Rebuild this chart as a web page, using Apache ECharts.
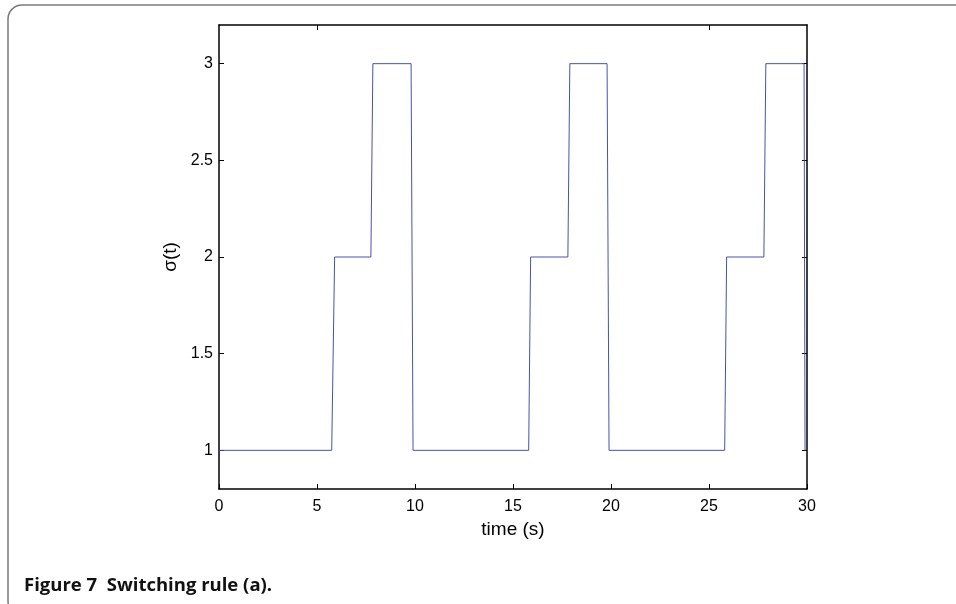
<!DOCTYPE html>
<html><head><meta charset="utf-8">
<script src="https://cdn.jsdelivr.net/npm/echarts@6/dist/echarts.min.js"></script>
<style>html,body{margin:0;padding:0;background:#fff}#c{width:956px;height:604px}</style>
</head><body><div id="c"></div>
<script>
const times  = [0, 5.75, 5.9, 7.75, 7.85, 9.8, 9.9, 15.8, 15.9, 17.8, 17.9, 19.8, 19.9, 25.8, 25.9, 27.8, 27.9, 29.85, 29.9];
const sigma  = [1, 1,    2,   2,    3,    3,   1,   1,    2,    2,    3,    3,    1,    1,    2,    2,    3,    3,     1];
const xTicks = [0, 5, 10, 15, 20, 25, 30];
const yTicks = [1, 1.5, 2, 2.5, 3];
const topTicks = [5, 25];
const xTitle = 'time (s)';
const yTitle = 'σ(t)';
const caption = 'Figure 7  Switching rule (a).';

const data = times.map((t, i) => [t, sigma[i]]);
const chart = echarts.init(document.getElementById('c'), null, {renderer: 'canvas'});
const axisFont = {fontFamily: 'Liberation Sans, Arial, sans-serif', fontSize: 16, color: '#000'};
chart.setOption({
  animation: false,
  backgroundColor: '#fff',
  grid: {left: 219, top: 25, right: 149, bottom: 115},
  xAxis: [{
    type: 'value', min: 0, max: 30, position: 'bottom',
    axisLine: {lineStyle: {color: '#000', width: 1.5}},
    axisTick: {inside: true, length: 5, customValues: xTicks, lineStyle: {color: '#000', width: 1}},
    axisLabel: Object.assign({customValues: xTicks, margin: 10}, axisFont),
    splitLine: {show: false},
    name: xTitle, nameLocation: 'middle', nameGap: 28,
    nameTextStyle: {fontFamily: 'Liberation Sans, Arial, sans-serif', fontSize: 19, color: '#000'}
  }, {
    type: 'value', min: 0, max: 30, position: 'top',
    axisLine: {show: true, onZero: false, lineStyle: {color: '#000', width: 1.5}},
    axisTick: {inside: true, length: 5, customValues: topTicks, lineStyle: {color: '#000', width: 1}},
    axisLabel: {show: false},
    splitLine: {show: false}
  }],
  yAxis: [{
    type: 'value', min: 0.8, max: 3.2, position: 'left',
    axisLine: {show: true, onZero: false, lineStyle: {color: '#000', width: 1.5}},
    axisTick: {inside: true, length: 5, customValues: yTicks, lineStyle: {color: '#000', width: 1}},
    axisLabel: Object.assign({customValues: yTicks, margin: 6}, axisFont),
    splitLine: {show: false},
    name: yTitle, nameLocation: 'middle', nameGap: 38, nameRotate: 90,
    nameTextStyle: {fontFamily: 'Liberation Sans, Arial, sans-serif', fontSize: 19, color: '#000'}
  }, {
    type: 'value', min: 0.8, max: 3.2, position: 'right',
    axisLine: {show: true, onZero: false, lineStyle: {color: '#000', width: 1.5}},
    axisTick: {inside: true, length: 5, customValues: yTicks, lineStyle: {color: '#000', width: 1}},
    axisLabel: {show: false},
    splitLine: {show: false}
  }],
  series: [{
    type: 'line', data: data, showSymbol: false, symbol: 'none',
    lineStyle: {color: '#4455aa', width: 1}, clip: true
  }],
  graphic: [{
    type: 'rect', silent: true, z: -1,
    shape: {x: 8, y: 5, width: 1000, height: 610, r: 14},
    style: {fill: 'none', stroke: '#7a7a7a', lineWidth: 1.5}
  }, {
    type: 'text', silent: true,
    style: {x: 24, y: 586, text: caption, verticalAlign: 'middle',
      font: 'bold 18.5px "Open Sans", "Noto Sans", sans-serif', fill: '#111'}
  }]
});
</script></body></html>
